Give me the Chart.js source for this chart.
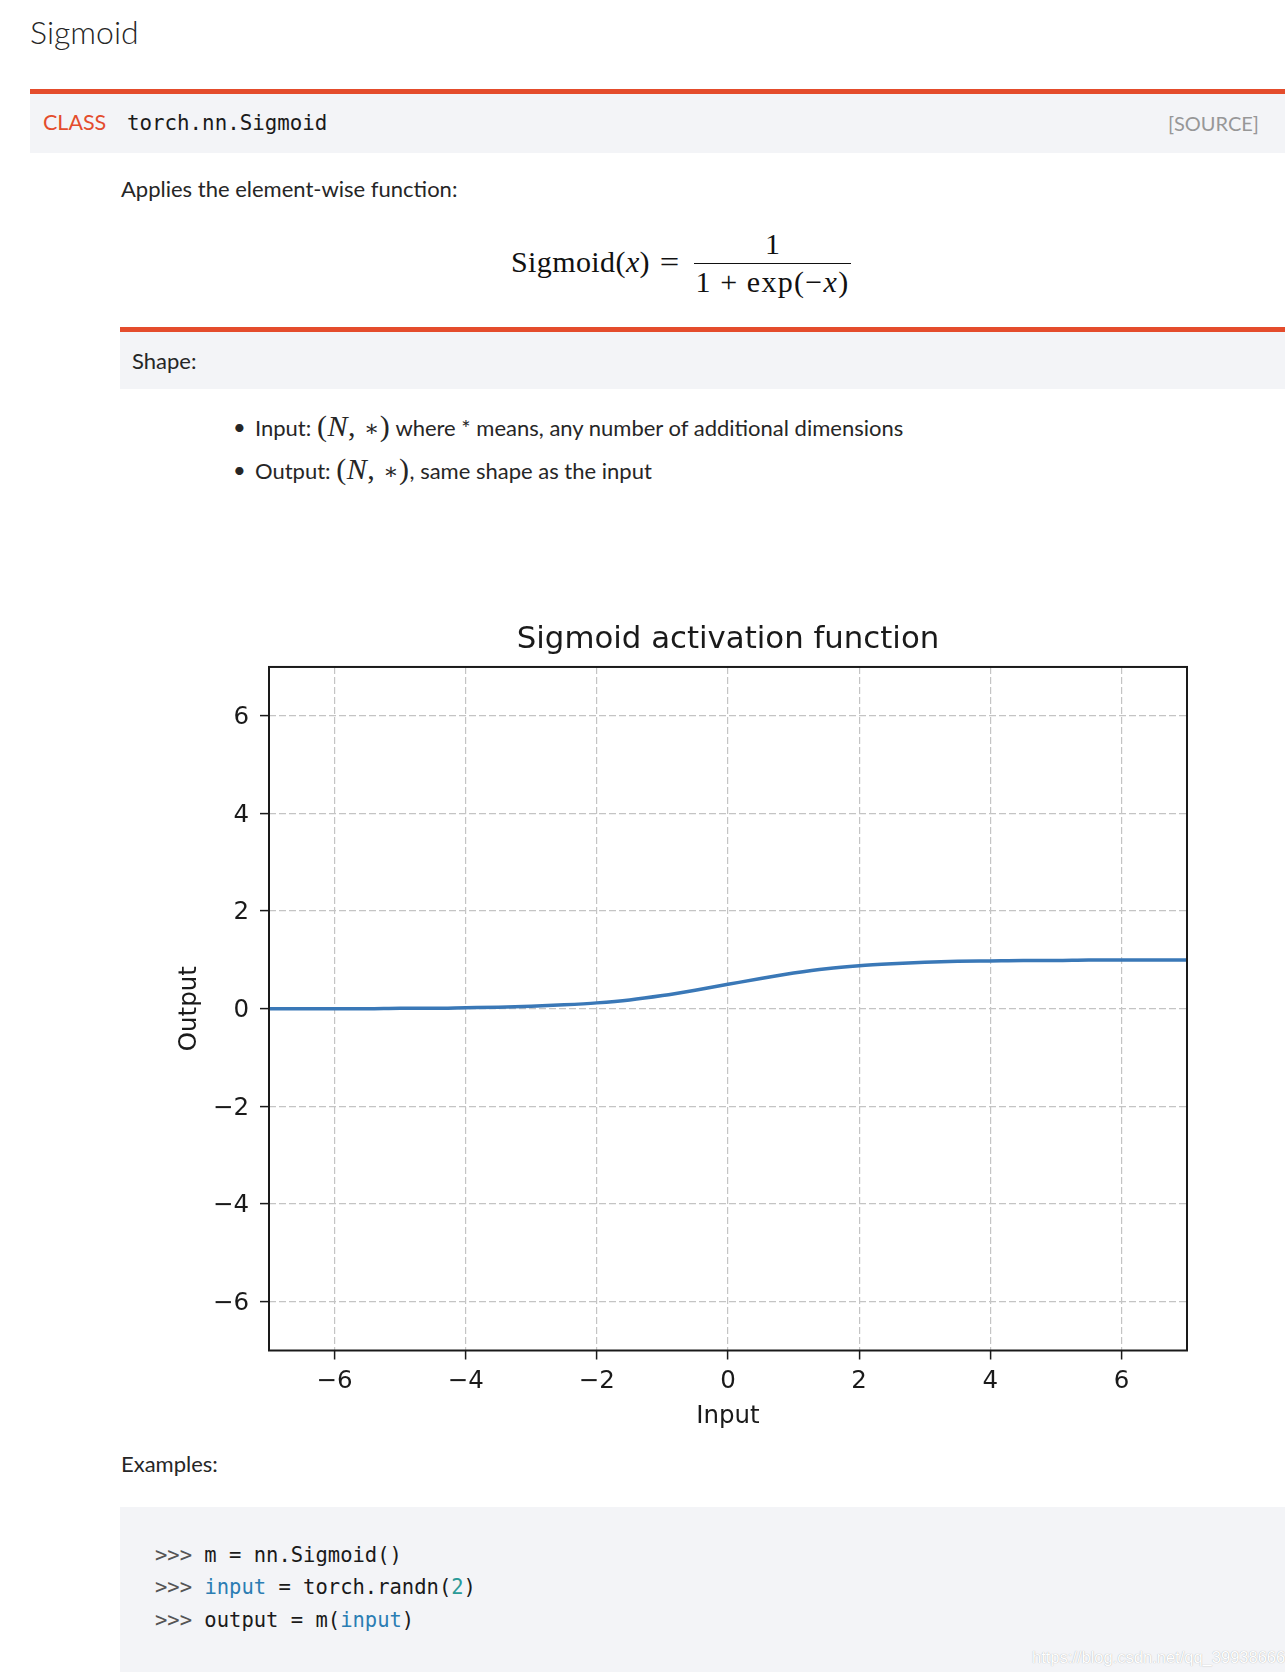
<!DOCTYPE html>
<html>
<head>
<meta charset="utf-8">
<title>Sigmoid</title>
<script src="https://cdn.jsdelivr.net/npm/chart.js@4.4.1/dist/chart.umd.min.js"></script>
<style>
html, body { margin: 0; padding: 0; background: #fff; }
body { width: 1285px; height: 1677px; position: relative; overflow: hidden; font-family: Lato, sans-serif; color: #262626; }
.a { position: absolute; white-space: nowrap; line-height: 1; }
.box { position: absolute; background: #f3f4f7; }
.red { position: absolute; background: #e44c2c; }
.mono { font-family: "DejaVu Sans Mono", monospace; }
.serif { font-family: "Liberation Serif", serif; color: #111; }
.mth { font-family: "Liberation Serif", serif; font-size: 30px; letter-spacing: 0.5px; }
.ast { font-family: "DejaVu Serif", serif; font-size: 0.75em; }
.op { margin: 0 0.28em; }
.gp { color: #555; }
.nb { color: #2b7db3; }
.mi { color: #2a9a98; }
#chartBox { position: absolute; left: 150px; top: 600px; width: 1080px; height: 840px; }
</style>
</head>
<body>

<div class="a" style="left:30px;top:16px;font-size:32px;font-weight:300;">Sigmoid</div>

<div class="red" style="left:30px;top:89px;width:1255px;height:5px;"></div>
<div class="box" style="left:30px;top:94px;width:1255px;height:59px;"></div>
<div class="a" style="left:43px;top:111.5px;font-size:21.5px;color:#e44c2c;">CLASS</div>
<div class="a mono" style="left:127px;top:112.5px;font-size:20.8px;color:#1a1a1a;">torch.nn.Sigmoid</div>
<div class="a" style="right:26px;top:112.5px;font-size:20px;color:#979797;">[SOURCE]</div>

<div class="a" style="left:121px;top:177.7px;font-size:22px;">Applies the element-wise function:</div>

<div class="a serif" style="left:511px;top:247px;font-size:30px;letter-spacing:0.4px;">Sigmoid(<i>x</i>)</div>
<div class="a serif" style="left:661px;top:247px;font-size:30px;"><span style="display:inline-block;transform:scaleX(1.15);">=</span></div>
<div class="a serif" style="left:694px;top:229px;width:157px;text-align:center;font-size:30px;">1</div>
<div style="position:absolute;left:694px;top:262.5px;width:157px;height:1.4px;background:#111;"></div>
<div class="a serif" style="left:694px;top:267px;width:157px;text-align:center;font-size:30px;letter-spacing:1.3px;">1<span class="op">+</span>exp(−<i>x</i>)</div>

<div class="red" style="left:120px;top:327px;width:1165px;height:5px;"></div>
<div class="box" style="left:120px;top:332px;width:1165px;height:57px;"></div>
<div class="a" style="left:132px;top:350px;font-size:22px;">Shape:</div>

<div class="a" style="left:233px;top:416px;font-size:22px;">•</div>
<div class="a" style="left:255px;top:410.8px;font-size:22px;">Input: <span class="mth">(<i>N</i>, <span class="ast">∗</span>)</span> where * means, any number of additional dimensions</div>
<div class="a" style="left:233px;top:459px;font-size:22px;">•</div>
<div class="a" style="left:255px;top:453.8px;font-size:22px;">Output: <span class="mth">(<i>N</i>, <span class="ast">∗</span>)</span>, same shape as the input</div>

<div id="chartBox"><canvas id="sigmoidChart" width="1080" height="840"></canvas></div>

<div class="a" style="left:121px;top:1453px;font-size:22px;">Examples:</div>

<div class="box" style="left:120px;top:1507px;width:1165px;height:165px;"></div>
<div class="a mono" style="left:155px;top:1544.7px;font-size:20.5px;color:#1a1a1a;"><span class="gp">&gt;&gt;&gt;</span> m = nn.Sigmoid()</div>
<div class="a mono" style="left:155px;top:1577.2px;font-size:20.5px;color:#1a1a1a;"><span class="gp">&gt;&gt;&gt;</span> <span class="nb">input</span> = torch.randn(<span class="mi">2</span>)</div>
<div class="a mono" style="left:155px;top:1609.7px;font-size:20.5px;color:#1a1a1a;"><span class="gp">&gt;&gt;&gt;</span> output = m(<span class="nb">input</span>)</div>

<div class="a" style="left:1032px;top:1649px;font-size:16.5px;font-family:'Liberation Sans',Arial,sans-serif;color:#fff;text-shadow:0 0 1px rgba(0,0,0,0.35);">https://blog.csdn.net/qq_39938666</div>

<script>
// values
var inputValues = [-7, -6.5, -6, -5.5, -5, -4.5, -4, -3.5, -3, -2.5, -2, -1.5, -1, -0.5, 0,
                   0.5, 1, 1.5, 2, 2.5, 3, 3.5, 4, 4.5, 5, 5.5, 6, 6.5, 7];
var outputValues = [0.00, 0.00, 0.00, 0.00, 0.01, 0.01, 0.02, 0.03, 0.05, 0.08, 0.12, 0.18, 0.27, 0.38, 0.50,
                    0.62, 0.73, 0.82, 0.88, 0.92, 0.95, 0.97, 0.98, 0.99, 0.99, 1.00, 1.00, 1.00, 1.00];
var xTicks = [-6, -4, -2, 0, 2, 4, 6];
var yTicks = [-6, -4, -2, 0, 2, 4, 6];

var FONT = 'DejaVu Sans';
var INK = '#1a1a1a';

function minusLabel(v) {
	return v < 0 ? '\u2212' + Math.abs(v) : String(v);
}

var framePlugin = {
	id: 'frame',
	afterDraw: function (chart) {
		var ctx = chart.ctx, a = chart.chartArea;
		ctx.save();
		ctx.strokeStyle = INK;
		ctx.lineWidth = 2;
		ctx.strokeRect(a.left, a.top, a.right - a.left, a.bottom - a.top);
		ctx.restore();
	}
};

function axis(ticksList, title, isX) {
	return {
		type: 'linear',
		min: -7,
		max: 7,
		afterBuildTicks: function (s) {
			s.ticks = ticksList.map(function (v) { return { value: v }; });
		},
		afterFit: function (s) {
			if (isX) { s.height = 89.5; } else { s.width = 119; }
		},
		ticks: {
			font: { family: FONT, size: 24.5 },
			color: INK,
			padding: isX ? 7 : 11,
			labelOffset: isX ? 0 : 2,
			maxRotation: 0,
			autoSkip: false,
			callback: minusLabel
		},
		grid: {
			color: '#c4c4c4',
			lineWidth: 1.2,
			drawTicks: true,
			tickLength: 9,
			tickColor: INK,
			tickWidth: 1.5
		},
		border: { display: false, dash: [7, 3] },
		title: {
			display: true,
			text: title,
			color: INK,
			font: { family: FONT, size: 24.5 },
			padding: isX ? { top: 0, bottom: 8.3 } : { top: 24.8, bottom: 0 }
		}
	};
}

var points = inputValues.map(function (x, i) { return { x: x, y: outputValues[i] }; });

new Chart(document.getElementById('sigmoidChart').getContext('2d'), {
	type: 'line',
	data: {
		datasets: [{
			data: points,
			borderColor: '#3a78b7',
			borderWidth: 3.5,
			pointRadius: 0,
			fill: false,
			cubicInterpolationMode: 'monotone'
		}]
	},
	options: {
		responsive: false,
		animation: false,
		devicePixelRatio: 1,
		layout: { padding: { left: 0, right: 43, top: 0, bottom: 0 } },
		plugins: {
			legend: { display: false },
			tooltip: { enabled: false },
			title: {
				display: true,
				fullSize: false,
				text: 'Sigmoid activation function',
				color: INK,
				font: { family: FONT, size: 30.8, weight: 'normal' },
				padding: { top: 21.5, bottom: 8.5 }
			}
		},
		scales: {
			x: axis(xTicks, 'Input', true),
			y: axis(yTicks, 'Output', false)
		}
	},
	plugins: [framePlugin]
});
</script>
</body>
</html>
